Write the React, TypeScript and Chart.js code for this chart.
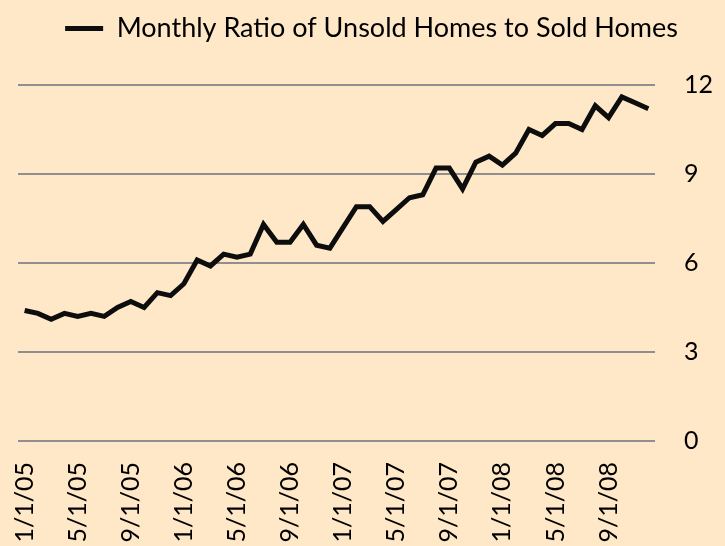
import React, { useEffect, useRef } from "react";
import { Chart, registerables } from "chart.js";

Chart.register(...registerables);

// Monthly categories (first of each month, Jan 2005 - Dec 2008)
const months: string[] = [
  "1/1/05", "2/1/05", "3/1/05", "4/1/05", "5/1/05", "6/1/05",
  "7/1/05", "8/1/05", "9/1/05", "10/1/05", "11/1/05", "12/1/05",
  "1/1/06", "2/1/06", "3/1/06", "4/1/06", "5/1/06", "6/1/06",
  "7/1/06", "8/1/06", "9/1/06", "10/1/06", "11/1/06", "12/1/06",
  "1/1/07", "2/1/07", "3/1/07", "4/1/07", "5/1/07", "6/1/07",
  "7/1/07", "8/1/07", "9/1/07", "10/1/07", "11/1/07", "12/1/07",
  "1/1/08", "2/1/08", "3/1/08", "4/1/08", "5/1/08", "6/1/08",
  "7/1/08", "8/1/08", "9/1/08", "10/1/08", "11/1/08", "12/1/08",
];

// Ratio of unsold homes to sold homes
const ratio: number[] = [
  4.4, 4.3, 4.1, 4.3, 4.2, 4.3, 4.2, 4.5, 4.7, 4.5, 5.0, 4.9,
  5.3, 6.1, 5.9, 6.3, 6.2, 6.3, 7.3, 6.7, 6.7, 7.3, 6.6, 6.5,
  7.2, 7.9, 7.9, 7.4, 7.8, 8.2, 8.3, 9.2, 9.2, 8.5, 9.4, 9.6,
  9.3, 9.7, 10.5, 10.3, 10.7, 10.7, 10.5, 11.3, 10.9, 11.6, 11.4, 11.2,
];

// x tick labels that are shown
const shownTicks: string[] = [
  "1/1/05", "5/1/05", "9/1/05", "1/1/06", "5/1/06", "9/1/06",
  "1/1/07", "5/1/07", "9/1/07", "1/1/08", "5/1/08", "9/1/08",
];

const seriesLabel = "Monthly Ratio of Unsold Homes to Sold Homes";

const legendSpacer = {
  id: "legendSpacer",
  afterInit(chart: any) {
    const lg = chart.legend;
    if (!lg) return;
    const orig = lg.fit.bind(lg);
    lg.fit = () => {
      orig();
      lg.height = 78;
    };
  },
};

export default function App() {
  const ref = useRef<HTMLCanvasElement | null>(null);

  useEffect(() => {
    document.body.style.margin = "0";
    const canvas = ref.current;
    if (!canvas) return;
    const chart = new Chart(canvas, {
      type: "line",
      data: {
        labels: months,
        datasets: [
          {
            label: seriesLabel,
            data: ratio,
            borderColor: "#0d0d0d",
            backgroundColor: "#0d0d0d",
            borderWidth: 5,
            pointRadius: 0,
            tension: 0,
            fill: false,
          },
        ],
      },
      options: {
        animation: false,
        responsive: false,
        layout: { padding: { left: 18, right: 0, top: 7, bottom: 0 } },
        plugins: {
          legend: {
            display: true,
            position: "top",
            labels: {
              usePointStyle: true,
              pointStyle: "line",
              pointStyleWidth: 38,
              padding: 8,
              color: "#000",
              font: { family: "Lato", size: 27 },
            },
          },
          tooltip: { enabled: false },
        },
        scales: {
          x: {
            type: "category",
            offset: true,
            grid: { display: false, drawTicks: false },
            border: { display: false },
            ticks: {
              autoSkip: false,
              maxRotation: 90,
              minRotation: 90,
              padding: 21,
              color: "#000",
              font: { family: "Lato", size: 25 },
              callback: function (this: any, value: any) {
                const lbl = this.getLabelForValue(value);
                return shownTicks.includes(lbl) ? lbl : "";
              },
            },
            afterFit: (scale: any) => {
              scale.height = 105;
            },
          },
          y: {
            position: "right",
            min: 0,
            max: 12,
            grid: { color: "#8f8f8f", lineWidth: 2, drawTicks: false },
            border: { display: false },
            ticks: {
              stepSize: 3,
              padding: 29,
              color: "#000",
              font: { family: "Lato", size: 25 },
            },
            afterFit: (scale: any) => {
              scale.width = 70;
            },
          },
        },
      },
      plugins: [legendSpacer],
    });
    return () => chart.destroy();
  }, []);

  return (
    <div
      style={{
        position: "fixed",
        left: 0,
        top: 0,
        width: 725,
        height: 546,
        background: "#FFE8C8",
      }}
    >
      <canvas ref={ref} width={725} height={546} />
    </div>
  );
}
